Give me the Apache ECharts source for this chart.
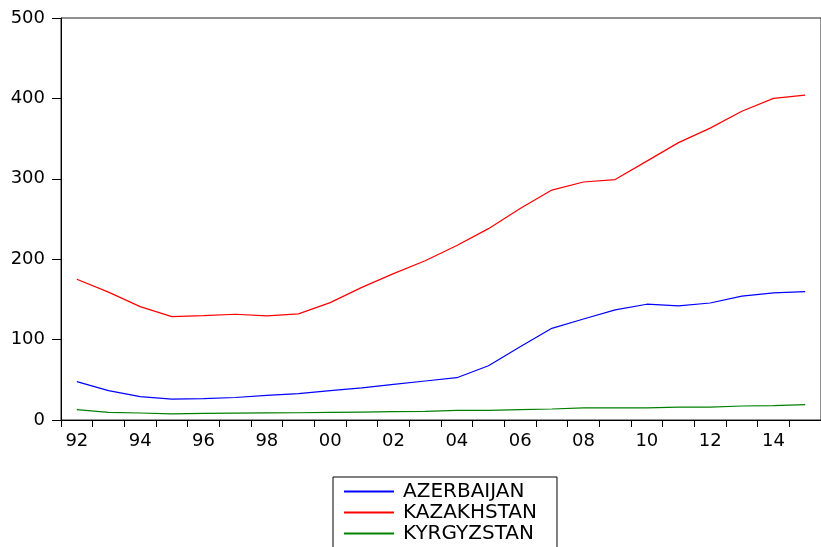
<!DOCTYPE html>
<html>
<head>
<meta charset="utf-8">
<script src="https://cdn.jsdelivr.net/npm/echarts@6/dist/echarts.min.js"></script>
<style>
  html, body { margin: 0; padding: 0; background: #fff; }
  #chart { width: 821px; height: 547px; }
</style>
</head>
<body>
<div id="chart"></div>
<script>
var myChart = echarts.init(document.getElementById('chart'));

// years 1992 - 2015
var years = ['92', '93', '94', '95', '96', '97', '98', '99', '00', '01', '02', '03',
             '04', '05', '06', '07', '08', '09', '10', '11', '12', '13', '14', '15'];

var azerbaijan = [47.7, 36.5, 29, 26, 26.5, 28, 30.7, 32.7, 36.5, 40, 44.4, 48.5,
                  52.6, 67.5, 91, 114, 125.6, 137, 144, 142, 145.5, 154, 158, 159.6];
var kazakhstan = [175, 159, 141, 128.5, 129.7, 131.5, 129.4, 132, 146, 165, 182, 198,
                  217, 238, 263, 286, 296, 299, 322, 345, 363, 384, 400, 404];
var kyrgyzstan = [12.8, 9.5, 8.7, 7.5, 8.3, 8.6, 8.8, 9, 9.4, 9.8, 10.3, 10.8,
                  12, 12, 12.8, 13.7, 15, 15, 15, 16, 16, 17.4, 18, 19];

var fontFamily = 'DejaVu Sans';

var option = {
    animation: false,
    grid: {
        left: 61,
        right: -8,
        top: 18,
        bottom: 127,
        show: true,
        borderColor: '#222',
        borderWidth: 1
    },
    legend: {
        // horizontal with narrow width so each item wraps onto its own row
        orient: 'horizontal',
        left: 333,
        top: 477,
        width: 196,
        borderColor: '#000',
        borderWidth: 1,
        padding: [4, 20, 10, 10],
        itemWidth: 50,
        itemHeight: 14,
        itemGap: 0,
        itemStyle: { opacity: 0 },
        textStyle: {
            fontFamily: fontFamily,
            fontSize: 20,
            lineHeight: 21,
            color: '#000',
            padding: [0, 0, 0, 4]
        },
        data: ['AZERBAIJAN', 'KAZAKHSTAN', 'KYRGYZSTAN']
    },
    xAxis: {
        type: 'category',
        data: years,
        boundaryGap: true,
        axisLine: { lineStyle: { color: '#000', width: 1 } },
        axisTick: { show: true, interval: 0, length: 7, lineStyle: { color: '#000' } },
        axisLabel: {
            interval: 1,
            margin: 12,
            color: '#000',
            fontFamily: fontFamily,
            fontSize: 18
        },
        splitLine: { show: false }
    },
    yAxis: {
        type: 'value',
        min: 0,
        max: 500,
        interval: 100,
        axisLine: { show: true, lineStyle: { color: '#000', width: 1 } },
        axisTick: { show: true, length: 9, lineStyle: { color: '#000' } },
        axisLabel: {
            margin: 16,
            color: '#000',
            fontFamily: fontFamily,
            fontSize: 18
        },
        splitLine: { show: false }
    },
    series: [
        {
            name: 'AZERBAIJAN',
            type: 'line',
            data: azerbaijan,
            symbol: 'none',
            color: '#0000ff',
            lineStyle: { width: 1.2, color: '#0000ff' }
        },
        {
            name: 'KAZAKHSTAN',
            type: 'line',
            data: kazakhstan,
            symbol: 'none',
            color: '#ff0000',
            lineStyle: { width: 1.2, color: '#ff0000' }
        },
        {
            name: 'KYRGYZSTAN',
            type: 'line',
            data: kyrgyzstan,
            symbol: 'none',
            color: '#008000',
            lineStyle: { width: 1.2, color: '#008000' }
        }
    ]
};

myChart.setOption(option);
</script>
</body>
</html>
